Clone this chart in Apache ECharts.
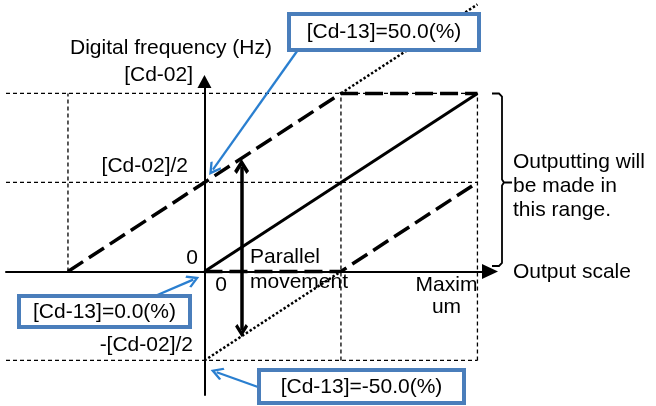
<!DOCTYPE html>
<html><head><meta charset="utf-8">
<script src="https://cdn.jsdelivr.net/npm/echarts@6/dist/echarts.min.js"></script>
<style>html,body{margin:0;padding:0;background:#fff}#c{width:656px;height:406px}</style>
</head><body><div id="c"></div>
<script>
// ---- data (output scale in % of maximum, frequency in % of [Cd-02]) ----
const xRange = [-72.7, 104.6];
const yRange = [-69.4, 106.7];
const solidLine   = [[0, 0], [100, 100]];                 // [Cd-13]=0.0(%)
const upperDashed = [[-50, 0], [50, 100], [100, 100]];    // [Cd-13]=50.0(%)
const upperDotted = [[50, 100], [100, 150]];
const lowerDashed = [[0, 0], [50, 0], [100, 50]];         // [Cd-13]=-50.0(%)
const lowerDotted = [[0, -50], [50, 0]];
const guideRows = [100, 50, -50];
const guideCols = [[-50, 0, 100], [50, -50, 100], [100, -50, 100]];
const moveArrow = [[13.6, 59.0], [13.6, -33.1]];
const calloutArrows = [
  [[35.0, 126.1], [3.1, 57.2]],
  [[-18.1, -13.8], [-4.1, -4.6]],
  [[19.6, -64.9], [4.5, -56.6]]
];
const yTickLabels = ['[Cd-02]', '[Cd-02]/2', '0', '-[Cd-02]/2'];
const xTickLabels = ['0', 'Maxim\num'];
const calloutLabels = ['[Cd-13]=50.0(%)', '[Cd-13]=0.0(%)', '[Cd-13]=-50.0(%)'];
const yAxisTitle = 'Digital frequency (Hz)';
const xAxisTitle = 'Output scale';
const rangeNote = 'Outputting will\nbe made in\nthis range.';
const moveNote = ['Parallel', 'movement'];

// ---- styles ----
const FONT = '"Liberation Sans", Arial, sans-serif';
const BLUE = '#2A7FD0';
const BOX = '#4A7EBB';
const thickChevron = 'path://M7.5,0 L15,9.5 L12.3,11.8 L7.5,5.6 L2.7,11.8 L0,9.5 Z';
const thinChevron = 'path://M8,0 L16,10.8 L14,12.4 L8,4.5 L2,12.4 L0,10.8 Z';

function lineSeries(data, width, type, z) {
  return {
    type: 'line', data: data, symbol: 'none', showSymbol: false, clip: false,
    silent: true, animation: false, z: z || 2,
    lineStyle: { color: '#000', width: width, type: type, cap: 'butt' },
    emphasis: { disabled: true }
  };
}

const series = [];
guideRows.forEach(v => series.push(lineSeries([[xRange[0], v], [100, v]], 1.3, [4, 3], 1)));
guideCols.forEach(c => series.push(lineSeries([[c[0], c[1]], [c[0], c[2]]], 1.3, [4, 3], 1)));
series.push(lineSeries(upperDotted, 2.5, [2.4, 2.1], 3));
series.push(lineSeries(lowerDotted, 2.5, [2.4, 2.1], 3));
series.push(lineSeries(solidLine, 3, 'solid', 4));
series.push(lineSeries(upperDashed, 3.5, [18, 7], 4));
series.push(lineSeries(lowerDashed, 3.5, [18, 7], 4));
series.push({
  type: 'lines', coordinateSystem: 'cartesian2d', silent: true, animation: false, z: 6, clip: false,
  data: [{ coords: moveArrow }],
  symbol: [thickChevron, thickChevron], symbolSize: [15, 13],
  lineStyle: { color: '#000', width: 3.5, opacity: 1, curveness: 0 },
  effect: { show: false }
});
series.push({
  type: 'lines', coordinateSystem: 'cartesian2d', silent: true, animation: false, z: 6, clip: false,
  data: calloutArrows.map(a => ({ coords: a })),
  symbol: ['none', thinChevron], symbolSize: [16, 13],
  lineStyle: { color: BLUE, width: 2.3, opacity: 1, curveness: 0 },
  effect: { show: false }
});

function txt(text, x, y, align, extra) {
  return {
    type: 'text', x: x, y: y, z: 100, silent: true,
    style: Object.assign({ text: text, fill: '#000', fontSize: 21, fontFamily: FONT,
      align: align, verticalAlign: 'middle' }, extra || {})
  };
}
function box(x, y, w, h) {
  return { type: 'rect', z: 99, silent: true, shape: { x: x, y: y, width: w, height: h },
    style: { fill: '#fff', stroke: BOX, lineWidth: 4 } };
}

const graphics = [
  txt(yAxisTitle, 70, 48, 'left'),
  txt(yTickLabels[0], 193, 75, 'right'),
  txt(yTickLabels[1], 188, 166, 'right'),
  txt(yTickLabels[2], 198, 258, 'right'),
  txt(yTickLabels[3], 193, 345, 'right'),
  txt(xTickLabels[0], 221, 285, 'center'),
  txt(xTickLabels[1], 446.5, 296, 'center', { lineHeight: 22 }),
  txt(moveNote[0], 250, 257, 'left'),
  txt(moveNote[1], 250, 282, 'left'),
  txt(rangeNote, 513, 186, 'left', { lineHeight: 24 }),
  txt(xAxisTitle, 513, 272, 'left'),
  box(289, 14, 190, 36), txt(calloutLabels[0], 384, 32, 'center'),
  box(19, 296, 171, 31), txt(calloutLabels[1], 104.5, 312, 'center'),
  box(259, 370, 205, 33), txt(calloutLabels[2], 361.5, 387, 'center'),
  { type: 'polyline', z: 50, silent: true,
    shape: { points: [[492, 93.5], [499, 93.5], [502, 96.5], [502, 179.5], [504, 182.5], [512, 182.5], [504, 182.5], [502, 185.5], [502, 263], [499, 266], [492, 266]] },
    style: { stroke: '#000', lineWidth: 1.8, fill: null } }
];

const chart = echarts.init(document.getElementById('c'), null, { renderer: 'canvas' });
chart.setOption({
  animation: false,
  backgroundColor: '#fff',
  grid: { left: 6, right: 166, top: 81.5, bottom: 11, containLabel: false },
  xAxis: {
    type: 'value', min: xRange[0], max: xRange[1],
    axisLine: { show: true, onZero: true, symbol: ['none', 'triangle'], symbolSize: [15, 16],
      lineStyle: { color: '#000', width: 2 } },
    axisTick: { show: false }, axisLabel: { show: false }, splitLine: { show: false }
  },
  yAxis: {
    type: 'value', min: yRange[0], max: yRange[1],
    axisLine: { show: true, onZero: true, symbol: ['none', 'triangle'], symbolSize: [14, 13],
      lineStyle: { color: '#000', width: 2 } },
    axisTick: { show: false }, axisLabel: { show: false }, splitLine: { show: false }
  },
  series: series,
  graphic: { elements: graphics }
});
</script>
</body></html>
